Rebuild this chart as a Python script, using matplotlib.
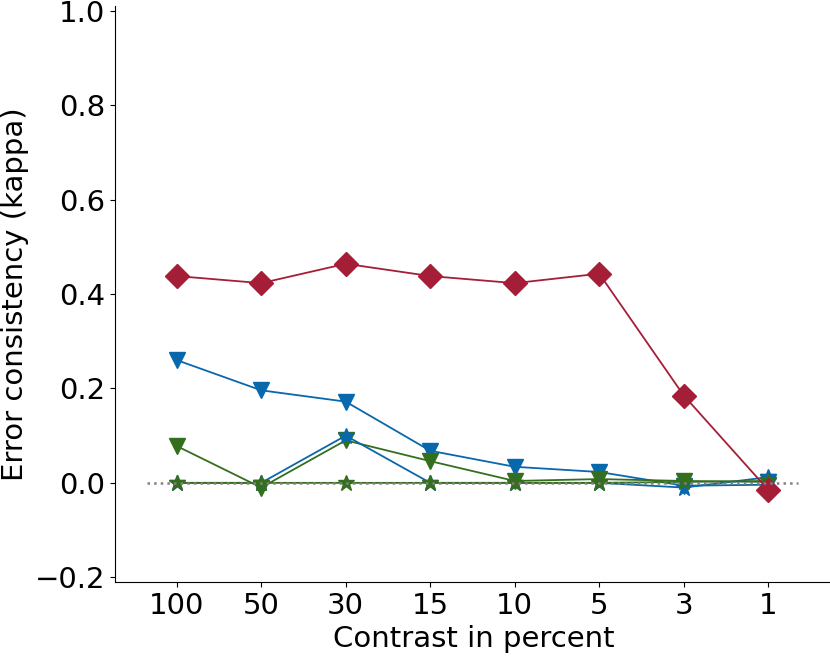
import matplotlib
matplotlib.use("Agg")
import matplotlib.pyplot as plt

categories = ["100", "50", "30", "15", "10", "5", "3", "1"]
red_diamond = [0.438, 0.423, 0.464, 0.438, 0.423, 0.443, 0.185, -0.015]
blue_tri = [0.260, 0.196, 0.172, 0.068, 0.034, 0.023, -0.006, -0.004]
green_tri = [0.078, -0.010, 0.090, 0.046, 0.004, 0.008, 0.004, 0.002]
blue_star = [0.0, 0.0, 0.100, 0.0, 0.0, 0.0, -0.010, 0.012]
green_star = [0.0, 0.0, 0.0, 0.0, 0.0, 0.0, 0.002, 0.004]

RED = "#A51E37"
BLUE = "#0868AC"
GREEN = "#346F1E"

x = list(range(len(categories)))

fig = plt.figure(figsize=(8.30, 6.56), dpi=100)
ax = fig.add_axes([115/830, 1 - 582/656, 1 - 115/830 + 0.002, (582 - 6)/656])

ax.plot(x, blue_tri, color=BLUE, marker="v", ms=12, lw=1.3)
ax.plot(x, green_tri, color=GREEN, marker="v", ms=12, lw=1.3)
ax.plot(x, blue_star, color=BLUE, marker="*", ms=12, lw=1.3)
ax.plot(x, green_star, color=GREEN, marker="*", ms=12, lw=1.3)
ax.plot(x, red_diamond, color=RED, marker="D", ms=12, lw=1.3)
ax.plot([-0.35, 7.35], [0, 0], color="grey", ls=":", lw=1.8, zorder=3)

ax.set_xlim(-0.73, 7.75)
ax.set_ylim(-0.21, 1.01)
ax.set_xticks(x)
ax.set_xticklabels(categories)
ax.set_yticks([-0.2, 0.0, 0.2, 0.4, 0.6, 0.8, 1.0])
ax.set_yticklabels(["\u22120.2", "0.0", "0.2", "0.4", "0.6", "0.8", "1.0"])
ax.tick_params(labelsize=21)
ax.spines["top"].set_visible(False)
ax.spines["right"].set_visible(False)
ax.set_xlabel("Contrast in percent", fontsize=21)
ax.set_ylabel("Error consistency (kappa)", fontsize=21)

fig.savefig("out.png", dpi=100)
